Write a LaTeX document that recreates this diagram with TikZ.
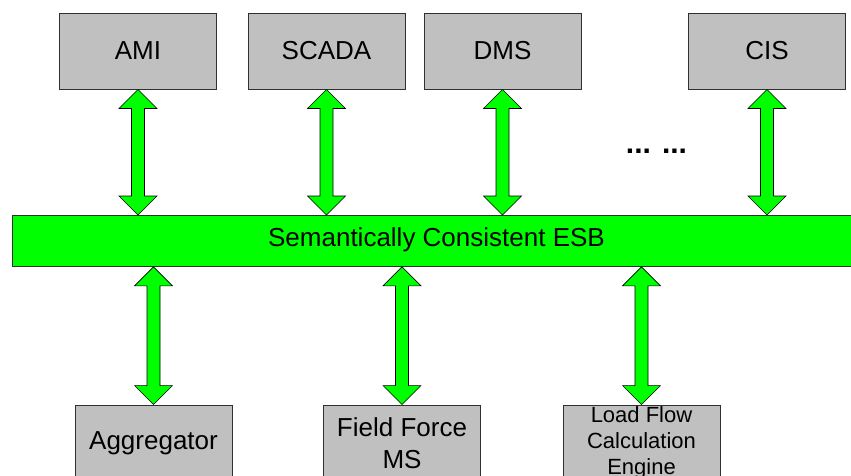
\documentclass[tikz,border=0pt]{standalone}
\usepackage{fontspec}
\setmainfont{Liberation Sans}
\usetikzlibrary{calc}
\definecolor{boxgray}{HTML}{C0C0C0}
\definecolor{esbgreen}{HTML}{00FF00}
\definecolor{edgegray}{HTML}{303030}
\tikzset{
  sysbox/.style={draw=edgegray, line width=0.9pt, fill=boxgray, minimum width=157pt, minimum height=76pt, inner sep=0pt, font=\fontsize{26}{32}\selectfont, align=center},
  smallbox/.style={sysbox, font=\fontsize{22}{26}\selectfont},
  esbbar/.style={draw=edgegray, line width=0.9pt, fill=esbgreen, minimum width=848pt, minimum height=51pt, inner sep=0pt, anchor=north west},
  arrowbody/.style={draw=black, line width=0.6pt, fill=esbgreen, line join=miter}
}
\newcommand\fatarrow[2]{%
  \path[arrowbody] let \p1=(#1), \p2=(#2) in
    (\x1,\y1) -- (\x1+19pt,\y1-19pt) -- (\x1+6.5pt,\y1-19pt) -- (\x2+6.5pt,\y2+19pt)
    -- (\x2+19pt,\y2+19pt) -- (\x2,\y2) -- (\x2-19pt,\y2+19pt) -- (\x2-6.5pt,\y2+19pt)
    -- (\x1-6.5pt,\y1-19pt) -- (\x1-19pt,\y1-19pt) -- cycle;}
\begin{document}
\begin{tikzpicture}[x=1pt,y=-1pt]
\clip (0,0) rectangle (851,475);
\fill[white] (0,0) rectangle (851,475);
% top systems
\node[sysbox] (ami)   at (138,51) {AMI};
\node[sysbox] (scada) at (326.5,51) {SCADA};
\node[sysbox] (dms)   at (502.5,51) {DMS};
\node[sysbox] (cis)   at (767,51) {CIS};
% ESB
\node[esbbar] (esb) at (12,215) {};
\node[font=\fontsize{26}{30}\selectfont] (esblabel) at (436.5,240) {Semantically Consistent ESB};
% dots
\node[font=\bfseries\fontsize{30}{34}\selectfont, anchor=base, inner sep=0pt] (dots) at (656.5,153.5) {... ...};
% bottom systems
\node[sysbox] (agg)   at (153.5,443) {Aggregator};
\node[sysbox] (ffms)  at (402,443) {Field Force\\MS};
\node[smallbox] (lfce) at (641.5,443) {Load Flow\\Calculation\\Engine};
% arrows
\coordinate (ea) at (ami.south |- esb.north);
\coordinate (es) at (scada.south |- esb.north);
\coordinate (ed) at (dms.south |- esb.north);
\coordinate (ec) at (cis.south |- esb.north);
\coordinate (eg) at (agg.north |- esb.south);
\coordinate (ef) at (ffms.north |- esb.south);
\coordinate (el) at (lfce.north |- esb.south);
\fatarrow{ami.south}{ea}
\fatarrow{scada.south}{es}
\fatarrow{dms.south}{ed}
\fatarrow{cis.south}{ec}
\fatarrow{eg}{agg.north}
\fatarrow{ef}{ffms.north}
\fatarrow{el}{lfce.north}
\end{tikzpicture}
\end{document}
